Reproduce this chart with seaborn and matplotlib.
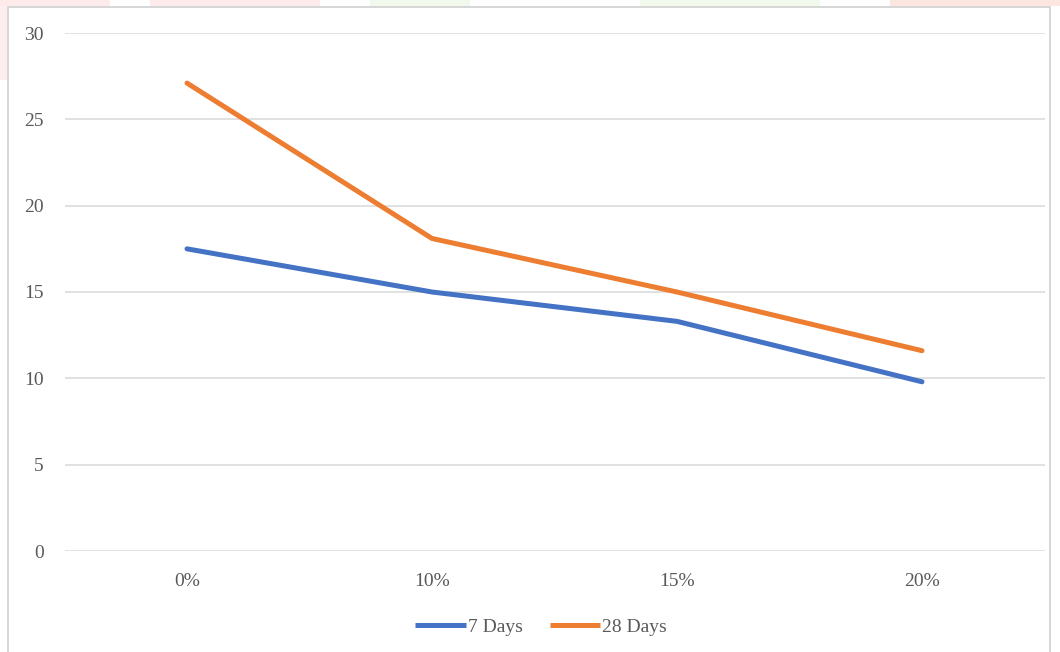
import matplotlib
matplotlib.use("Agg")
import matplotlib.pyplot as plt
from matplotlib.patches import Rectangle
from matplotlib.lines import Line2D
import seaborn as sns
import pandas as pd

# Replacement level (x categories) and strength values per curing age
replacement = ["0%", "10%", "15%", "20%"]
days7 = [17.5, 15.0, 13.3, 9.8]
days28 = [27.1, 18.1, 15.0, 11.6]
series_names = ["7 Days", "28 Days"]
y_ticks = [0, 5, 10, 15, 20, 25, 30]

df = pd.DataFrame({
    "Replacement": replacement * 2,
    "Strength": days7 + days28,
    "Age": [series_names[0]] * len(replacement) + [series_names[1]] * len(replacement),
})

sns.set_theme(style="white")
plt.rcParams["font.family"] = ["Liberation Serif", "DejaVu Serif"]

W, H = 1060, 652
fig = plt.figure(figsize=(W / 100, H / 100), dpi=100)
fig.patch.set_facecolor("white")

# faint coloured band along the top edge
for x0, x1, col in [(0, 110, "#fdeaea"), (150, 320, "#fdeaea"), (370, 470, "#f1f9ec"),
                    (640, 820, "#f1f9ec"), (890, 1150, "#fde6e0")]:
    fig.patches.append(Rectangle((x0 / W, 1 - 6 / H), (x1 - x0) / W, 6 / H,
                                 transform=fig.transFigure, facecolor=col,
                                 edgecolor="none", zorder=0))
fig.patches.append(Rectangle((0, 1 - 80 / H), 7 / W, 74 / H, transform=fig.transFigure,
                             facecolor="#fdeeee", edgecolor="none", zorder=0))

# chart frame
fig.patches.append(Rectangle((8 / W, -0.02), (1050 - 8) / W, 1.02 - 7 / H,
                             transform=fig.transFigure, facecolor="none",
                             edgecolor="#d0d0d0", linewidth=1.2, zorder=1))

ax = fig.add_axes([64.5 / W, 1 - 551 / H, 980 / W, (551 - 33) / H])
palette = {"7 Days": "#4472C4", "28 Days": "#ED7D31"}
sns.lineplot(data=df, x="Replacement", y="Strength", hue="Age", palette=palette,
             linewidth=3.6, ax=ax, legend=False, sort=False)

ax.set_xlim(-0.5, len(replacement) - 0.5)
ax.set_ylim(0, 30)
ax.set_yticks(y_ticks)
ax.set_yticklabels([str(v) for v in y_ticks])
ax.set_xlabel("")
ax.set_ylabel("")
ax.yaxis.grid(True, color="#d9d9d9", linewidth=1.1)
ax.xaxis.grid(False)
ax.set_axisbelow(True)
for s in ax.spines.values():
    s.set_visible(False)
ax.tick_params(axis="both", length=0, labelsize=14, labelcolor="#595959")
ax.tick_params(axis="y", pad=15)
ax.tick_params(axis="x", pad=16)

handles = [Line2D([0], [0], color=palette[n], linewidth=3.6, solid_capstyle="butt")
           for n in series_names]
fig.legend(handles, series_names, loc="center", bbox_to_anchor=(541 / W, 1 - 627 / H),
           ncol=2, frameon=False, fontsize=14, handlelength=2.6, handletextpad=0.1,
           columnspacing=1.4, labelcolor="#595959")

fig.savefig("out.png", dpi=100)
